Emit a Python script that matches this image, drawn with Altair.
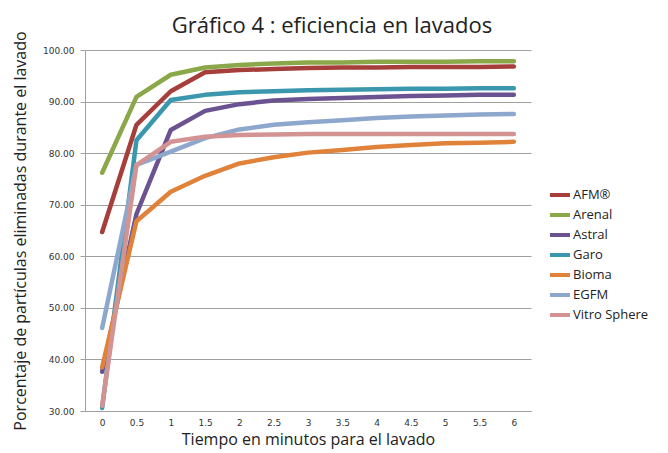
import altair as alt
import pandas as pd

times = ["0", "0.5", "1", "1.5", "2", "2.5", "3", "3.5", "4", "4.5", "5", "5.5", "6"]
series_names = ["AFM®", "Arenal", "Astral", "Garo", "Bioma", "EGFM", "Vitro Sphere"]
afm = [64.7, 85.5, 92.0, 95.7, 96.1, 96.3, 96.5, 96.6, 96.6, 96.7, 96.7, 96.7, 96.8]
arenal = [76.2, 90.9, 95.2, 96.6, 97.1, 97.4, 97.6, 97.6, 97.7, 97.7, 97.7, 97.8, 97.8]
astral = [37.6, 68.2, 84.5, 88.2, 89.5, 90.2, 90.5, 90.7, 90.9, 91.1, 91.2, 91.3, 91.3]
garo = [30.6, 82.5, 90.3, 91.3, 91.8, 92.0, 92.2, 92.3, 92.4, 92.5, 92.5, 92.6, 92.6]
bioma = [38.5, 66.8, 72.5, 75.6, 78.0, 79.2, 80.1, 80.6, 81.2, 81.6, 81.9, 82.0, 82.2]
egfm = [46.1, 77.7, 80.3, 82.9, 84.6, 85.5, 86.0, 86.4, 86.8, 87.1, 87.3, 87.5, 87.6]
vitro = [31.0, 77.7, 82.2, 83.2, 83.5, 83.6, 83.7, 83.7, 83.7, 83.7, 83.7, 83.7, 83.7]
colors = ["#A63F3C", "#8AA84A", "#6B5290", "#3A97AD", "#E0823A", "#8EA8CD", "#D49393"]

all_values = [afm, arenal, astral, garo, bioma, egfm, vitro]
rows = []
for si, (name, vals) in enumerate(zip(series_names, all_values)):
    for ti, (t, v) in enumerate(zip(times, vals)):
        rows.append({"serie": name, "tiempo": t, "valor": v, "orden": si, "ti": ti})
df = pd.DataFrame(rows)

font = "Open Sans"
tickfont = "DejaVu Sans"

chart = alt.Chart(df).mark_line(strokeWidth=4.5, strokeCap="round", strokeJoin="round").encode(
    x=alt.X("tiempo:O", sort=times,
            scale=alt.Scale(type="point", padding=0.5),
            axis=alt.Axis(title="Tiempo en minutos para el lavado", labelAngle=0,
                          labelFont=tickfont, labelFontSize=9, labelColor="#333333",
                          labelPadding=7, ticks=False, grid=False,
                          domainColor="#a0a0a0", domainWidth=1,
                          titleFont=font, titleFontSize=16, titleFontWeight="normal",
                          titleColor="#222222", titlePadding=4)),
    y=alt.Y("valor:Q",
            scale=alt.Scale(domain=[30, 100], nice=False, zero=False),
            axis=alt.Axis(title="Porcentaje de partículas eliminadas durante el lavado",
                          values=[30, 40, 50, 60, 70, 80, 90, 100], format=".2f",
                          labelFont=tickfont, labelFontSize=9, labelColor="#333333",
                          labelPadding=6, tickSize=5, tickColor="#a0a0a0",
                          gridColor="#a0a0a0", gridWidth=1,
                          domainColor="#a0a0a0", domainWidth=1,
                          titleFont=font, titleFontSize=16, titleFontWeight="normal",
                          titleColor="#222222", titlePadding=14)),
    color=alt.Color("serie:N", sort=series_names,
                    scale=alt.Scale(domain=series_names, range=colors),
                    legend=alt.Legend(title=None, orient="none", legendX=463, legendY=133,
                                      symbolType="stroke", symbolStrokeWidth=4,
                                      symbolSize=400, labelFont=font, labelFontSize=13,
                                      labelColor="#222222", rowPadding=0, labelOffset=1)),
    order=alt.Order("orden:Q"),
).properties(
    width=446, height=361,
    title=alt.TitleParams("Gráfico 4 : eficiencia en lavados", font=font, fontSize=22,
                          fontWeight="normal", color="#222222", anchor="middle",
                          dx=24, offset=-7),
    padding={"left": 77, "top": 42, "right": 129, "bottom": 38},
    autosize=alt.AutoSizeParams(type="none"),
).configure_view(stroke=None)

chart.save("out.html", embed_options={"renderer": "svg", "actions": False})
